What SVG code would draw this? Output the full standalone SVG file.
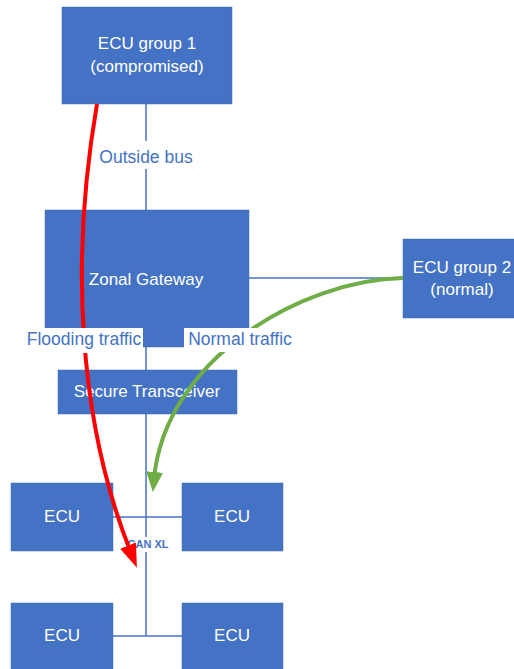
<svg xmlns="http://www.w3.org/2000/svg" width="514" height="669" viewBox="0 0 514 669">
<style>
.box{fill:#4472C4;stroke:#41719C;stroke-width:0.5}
.bt{fill:#FFFFFF;font-family:"Liberation Sans",Arial,sans-serif;font-size:17px;text-anchor:middle}
.ln{stroke:#4472C4;stroke-width:1.5;fill:none}
.lbl{fill:#4472C4;font-family:"Liberation Sans",Arial,sans-serif;font-size:17.5px;text-anchor:middle}
.bg{fill:#FFFFFF}
</style>
<defs>
<marker id="ar" markerUnits="userSpaceOnUse" markerWidth="26" markerHeight="20" refX="8" refY="8.5" orient="auto"><path d="M0,0 L24,8.5 L0,17 z" fill="#FF0000"/></marker>
<marker id="ag" markerUnits="userSpaceOnUse" markerWidth="22" markerHeight="20" refX="7" refY="8.5" orient="auto"><path d="M0,0 L20,8.5 L0,17 z" fill="#70AD47"/></marker>
</defs>
<rect width="514" height="669" fill="#FFFFFF"/>
<g id="connectors">
<line class="ln" x1="146" y1="104" x2="146" y2="210"/>
<line class="ln" x1="249" y1="278" x2="403" y2="278"/>
<line class="ln" x1="146" y1="347" x2="146" y2="370"/>
<line class="ln" x1="146" y1="414" x2="146" y2="636"/>
<line class="ln" x1="113" y1="517" x2="182" y2="517"/>
<line class="ln" x1="113" y1="636" x2="182" y2="636"/>
</g>
<g id="ecu-group-1"><rect class="box" x="62" y="7" width="170" height="97"/><text class="bt" x="147" y="49">ECU group 1</text><text class="bt" x="147" y="72">(compromised)</text></g>
<g id="zonal-gateway"><rect class="box" x="45" y="210" width="204" height="137"/><text class="bt" x="146" y="285">Zonal Gateway</text></g>
<g id="ecu-group-2"><rect class="box" x="403" y="239" width="118" height="79"/><text class="bt" x="462" y="273">ECU group 2</text><text class="bt" x="462" y="295">(normal)</text></g>
<g id="secure-transceiver"><rect class="box" x="58" y="370" width="179" height="44"/><text class="bt" x="147" y="397">Secure Transceiver</text></g>
<g id="ecu-tl"><rect class="box" x="11" y="483" width="102" height="68"/><text class="bt" x="62" y="522">ECU</text></g>
<g id="ecu-tr"><rect class="box" x="182" y="483" width="101" height="68"/><text class="bt" x="232" y="522">ECU</text></g>
<g id="ecu-bl"><rect class="box" x="11" y="603" width="102" height="80"/><text class="bt" x="62" y="641">ECU</text></g>
<g id="ecu-br"><rect class="box" x="182" y="603" width="101" height="80"/><text class="bt" x="232" y="641">ECU</text></g>
<g id="can-label">
<rect class="bg" x="126" y="537" width="44" height="15"/>
<text x="148" y="548" fill="#4472C4" font-family="'Liberation Sans',Arial,sans-serif" font-size="11" font-weight="bold" text-anchor="middle">CAN XL</text>
</g>
<g id="arrows">
<path d="M97,104 C70,260 78,420 131,553" stroke="#FF0000" stroke-width="4" fill="none" marker-end="url(#ar)"/>
<path d="M403,278 C300,280 165,360 154,479" stroke="#70AD47" stroke-width="4" fill="none" marker-end="url(#ag)"/>
</g>
<g id="labels">
<rect class="bg" x="97" y="141" width="98" height="28"/>
<text class="lbl" x="146" y="163">Outside bus</text>
<rect class="bg" x="22" y="328" width="121" height="25"/>
<text class="lbl" x="84" y="345">Flooding traffic</text>
<rect class="bg" x="184" y="328" width="113" height="24"/>
<text class="lbl" x="240" y="345">Normal traffic</text>
</g>
</svg>
